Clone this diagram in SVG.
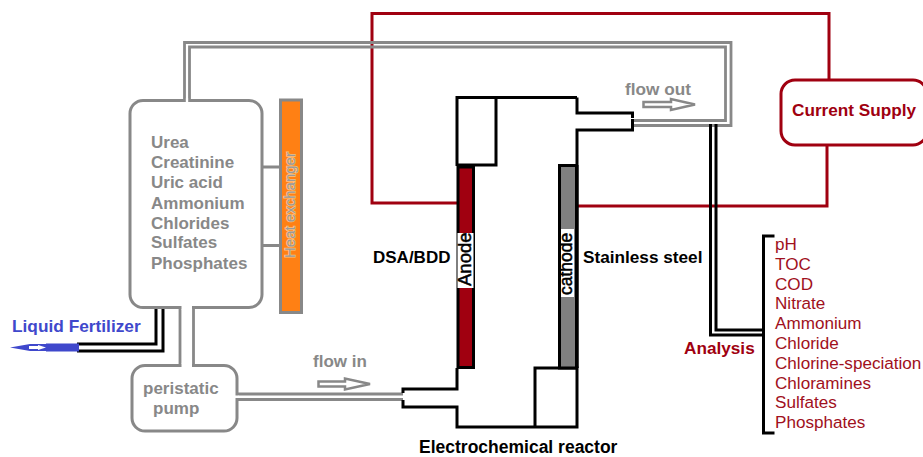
<svg xmlns="http://www.w3.org/2000/svg" width="923" height="457" viewBox="0 0 923 457">
<style>
text{font-family:"Liberation Sans",Arial,sans-serif}
.g{fill:none;stroke:#888;stroke-width:3}
.gt{stroke-width:2.800}
.k{fill:none;stroke:#000;stroke-width:3}
.r{fill:none;stroke:#a00010;stroke-width:3}
.gl{fill:#888;font-weight:bold;font-size:17px}
.bl{fill:#000;font-weight:bold;font-size:17.200px}
.rb{fill:#a00010;font-weight:bold;font-size:17.200px}
.li{fill:#a01020;font-size:17.100px}
.ar{fill:#fff;stroke:#888;stroke-width:2.500}
.el{fill:#000;stroke:#000;stroke-width:.5}
</style>
<rect width="923" height="457" fill="#fff"/>
<g id="connectors">
<path class="r" d="M457 203H372V13.500H829V80"/>
<path class="r" d="M827 145V206H578"/>
<path class="g gt" d="M184.500 101V42.500H731V125.500H632"/>
<path class="g gt" d="M189.500 101V47H725.500V120.500H632"/>
<path class="g gt" d="M262 167H280M262 245.500H280"/>
<path class="g gt" d="M180 307V366M193.500 307V366"/>
<path class="g gt" d="M236 394H403M236 399.500H403"/>
<path class="k" d="M163 307V351H77M156 307V344H77"/>
<path class="k" d="M710.500 124V335H763M716 124V330H763"/>
<path d="M10 347.500L30 344H46V343.500H79V351.500H46V351H30Z" fill="#3f48cc"/>
<path d="M29 346H38V345L46 347.500L38 350V349H29Z" fill="#fff"/>
</g>
<g id="tank">
<rect class="g" x="130" y="100.500" width="132" height="207" rx="13"/>
<path d="M185.800 100.500H188.200M181.500 307.500H192" stroke="#fff" stroke-width="4" fill="none"/>
<text class="gl"><tspan x="151" y="147.500">Urea</tspan><tspan x="151" y="168">Creatinine</tspan><tspan x="151" y="188">Uric acid</tspan><tspan x="151" y="208.500">Ammonium</tspan><tspan x="151" y="228.500">Chlorides</tspan><tspan x="151" y="248">Sulfates</tspan><tspan x="151" y="268.500">Phosphates</tspan></text>
</g>
<g id="heat-exchanger">
<rect x="280.500" y="100" width="21" height="212.500" fill="#ff8014" stroke="#888" stroke-width="3"/>
<text transform="translate(295 258) rotate(-90)" fill="#999" stroke="#ffc080" stroke-width="1.500" paint-order="stroke" font-size="15px">Heat exchanger</text>
</g>
<g id="pump">
<rect class="g" x="132" y="365.500" width="105" height="65.500" rx="13"/>
<path d="M181.500 365.500H192M237 395.500V398" stroke="#fff" stroke-width="4" fill="none"/>
<text class="gl" x="143" y="394">peristatic</text>
<text class="gl" x="153" y="414">pump</text>
</g>
<g id="reactor">
<path class="k" d="M632.500 119V130H577V165M577 97.500V113H632.500V118M457 166V97.500H577M457 97.500H496V165H457M457 368V389H403V393M403 400V407H457V427H577V368H535V427"/>
<text class="bl" x="419" y="453" style="font-size:17.500px">Electrochemical reactor</text>
</g>
<g id="anode">
<rect x="458" y="167" width="15.500" height="200.500" fill="#a00010" stroke="#000" stroke-width="3"/>
<rect x="457.500" y="233" width="16" height="55" fill="#fff"/>
<text class="el" transform="translate(471 286) rotate(-90)" font-size="18.500px">Anode</text>
<text class="bl" x="373" y="262.500" style="font-size:17px">DSA/BDD</text>
</g>
<g id="cathode">
<rect x="559.500" y="165.500" width="17" height="202.500" fill="#808080" stroke="#000" stroke-width="3"/>
<path d="M577 165V368" stroke="#000" stroke-width="3.500"/>
<rect x="561" y="229" width="13" height="68" fill="#fff"/>
<text class="el" transform="translate(572 295) rotate(-90)" font-size="17.500px">cathode</text>
<text class="bl" x="583" y="262.500">Stainless steel</text>
</g>
<g id="current-supply">
<rect class="r" x="781" y="80" width="146" height="65" rx="14"/>
<text class="rb" x="792" y="115.500">Current Supply</text>
</g>
<g id="liquid-fertilizer">
<text x="12" y="331.500" fill="#3f48cc" font-weight="bold" font-size="17.300px">Liquid Fertilizer</text>
</g>
<g id="flow-in">
<text class="gl" x="313" y="367">flow in</text>
<path class="ar" d="M318.500 381.500H345V378.500L370 384L345 389.500V386.500H318.500Z"/>
</g>
<g id="flow-out">
<text class="gl" x="625" y="95" style="font-size:17.200px">flow out</text>
<path class="ar" d="M643.500 102H671V99L695 104.500L671 110V107H643.500Z"/>
</g>
<g id="analysis">
<text class="rb" x="684" y="353.500">Analysis</text>
<path class="k" d="M774.500 236H763.500V433H774.500"/>
<text class="li"><tspan x="775" y="250">pH</tspan><tspan x="775" y="269.500">TOC</tspan><tspan x="775" y="289.500">COD</tspan><tspan x="775" y="309">Nitrate</tspan><tspan x="775" y="329">Ammonium</tspan><tspan x="775" y="349">Chloride</tspan><tspan x="775" y="368.500">Chlorine-speciation</tspan><tspan x="775" y="388.500">Chloramines</tspan><tspan x="775" y="408">Sulfates</tspan><tspan x="775" y="428">Phosphates</tspan></text>
</g>
</svg>
